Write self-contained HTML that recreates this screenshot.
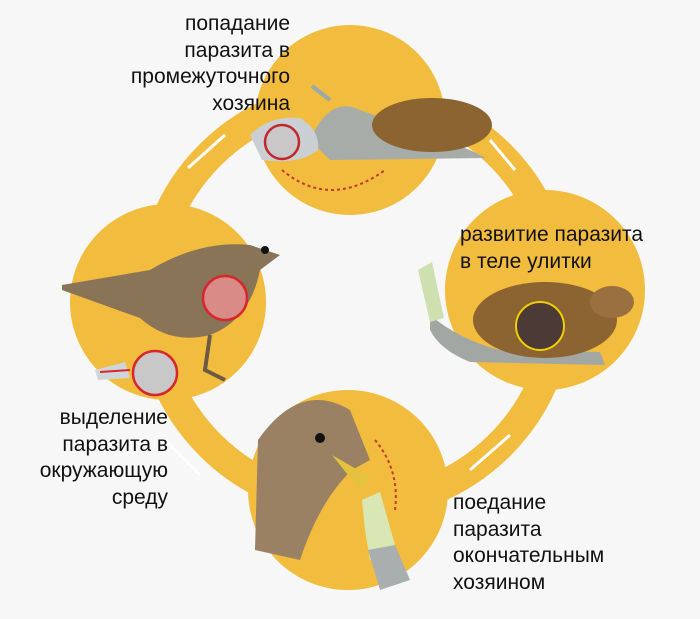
<!DOCTYPE html>
<html><head><meta charset="utf-8"><style>
body{margin:0;background:#f7f7f7;}
.w{position:relative;width:700px;height:619px;overflow:hidden;font-family:"Liberation Sans","DejaVu Sans",sans-serif;}
.t{position:absolute;font-size:21px;line-height:26.5px;color:#111;}
</style></head><body><div class="w">
<svg width="700" height="619" style="position:absolute;left:0;top:0">
<circle cx="355" cy="300" r="205" fill="none" stroke="#f2bc3e" stroke-width="30"/>
<circle cx="350" cy="120" r="95" fill="#f2bc3e"/>
<circle cx="545" cy="290" r="100" fill="#f2bc3e"/>
<circle cx="348" cy="490" r="100" fill="#f2bc3e"/>
<circle cx="168" cy="302" r="98" fill="#f2bc3e"/>
<g stroke="#fff" stroke-width="3" fill="none">
<path d="M188 168 L225 135"/><path d="M490 140 L515 170"/><path d="M510 435 L470 470"/><path d="M165 440 L200 475"/>
</g>
<!-- top snail -->
<path d="M310 140 Q330 95 360 110 L470 150 Q490 160 485 158 L330 160 Z" fill="#a7aca8"/>
<path d="M330 100 L312 86" stroke="#9aa" stroke-width="4"/>
<ellipse cx="432" cy="125" rx="60" ry="27" fill="#8c6432"/>
<path d="M250 135 Q270 115 300 118 Q320 130 318 150 Q300 165 262 160 Z" fill="#c9cfd3"/>
<circle cx="282" cy="142" r="17" fill="#c9c7c7" stroke="#c1272d" stroke-width="2.5"/>
<path d="M282 170 Q330 210 385 170" stroke="#c0392b" stroke-width="2" stroke-dasharray="3 3" fill="none"/>
<!-- right snail -->
<path d="M430 315 Q460 340 500 350 L600 352 L605 365 L470 362 Q440 350 430 330 Z" fill="#a2a7a4"/>
<ellipse cx="545" cy="320" rx="72" ry="38" fill="#8c6432"/>
<ellipse cx="612" cy="302" rx="22" ry="16" fill="#9a7040"/>
<circle cx="540" cy="326" r="24" fill="#4b3a35" stroke="#f0d000" stroke-width="2"/>
<path d="M418 270 L432 262 L444 318 L430 322 Z" fill="#cfe0b0"/>
<!-- left bird -->
<path d="M62 285 L150 270 Q200 240 250 245 L280 255 L260 270 Q250 320 210 335 Q170 345 140 318 L62 290 Z" fill="#8a7458"/>
<circle cx="265" cy="250" r="4" fill="#111"/>
<path d="M210 335 L205 370 L225 380" stroke="#6d5a45" stroke-width="4" fill="none"/>
<circle cx="225" cy="298" r="22" fill="#d98b88" stroke="#d8262e" stroke-width="2.5"/>
<circle cx="155" cy="373" r="22" fill="#c8c8c8" stroke="#d8262e" stroke-width="2.5"/>
<path d="M95 370 L125 362 L130 378 L98 380 Z" fill="#cfd6da"/>
<path d="M130 370 L100 372" stroke="#d8262e" stroke-width="2"/>
<!-- bottom bird -->
<path d="M258 440 Q300 380 350 410 L370 460 L352 470 Q320 500 300 560 L255 550 Z" fill="#9a8163"/>
<path d="M332 455 L372 478 L360 490 Z" fill="#e4c23d"/>
<circle cx="320" cy="438" r="5" fill="#111"/>
<path d="M362 500 L380 492 L395 545 L385 560 L370 560 L365 530 Z" fill="#d9e7b4"/>
<path d="M368 550 L395 545 L410 580 L380 590 Z" fill="#a9aeae"/>
<path d="M375 440 Q400 470 395 510" stroke="#c0392b" stroke-width="2" stroke-dasharray="3 3" fill="none"/>
</svg>
<div class="t" style="right:410px;top:11px;text-align:right">попадание<br>паразита в<br>промежуточного<br>хозяина</div>
<div class="t" style="left:460px;top:222px">развитие паразита<br>в теле улитки</div>
<div class="t" style="right:532px;top:405px;text-align:right">выделение<br>паразита в<br>окружающую<br>среду</div>
<div class="t" style="left:453px;top:490px">поедание<br>паразита<br>окончательным<br>хозяином</div>
</div></body></html>
